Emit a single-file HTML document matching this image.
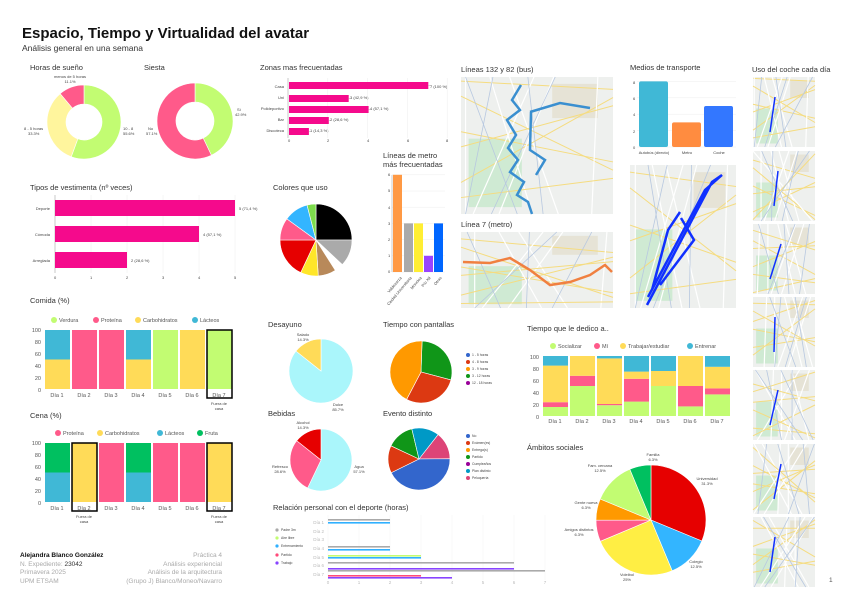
<!DOCTYPE html>
<html><head><meta charset="utf-8">
<style>
html,body{margin:0;padding:0;background:#fff;}
svg{display:block;font-family:"Liberation Sans",sans-serif;}
.t{font-size:7.5px;fill:#333}
.s{font-size:4px;fill:#444}
.m{font-size:5.5px;fill:#555}
.g{font-size:6.5px;fill:#aaa}
</style></head><body>
<svg id="c" width="848" height="599" viewBox="0 0 848 599" xmlns="http://www.w3.org/2000/svg">
<rect width="848" height="599" fill="#fff"/>
<text x="22" y="38" font-size="15" font-weight="bold" fill="#111">Espacio, Tiempo y Virtualidad del avatar</text>
<text x="22" y="51" font-size="8.5" fill="#333">Análisis general en una semana</text>

<text class="t" x="30" y="70">Horas de sueño</text>
<text class="t" x="144" y="70">Siesta</text>
<text class="t" x="260" y="70">Zonas mas frecuentadas</text>
<text class="t" x="383" y="158">Líneas de metro</text>
<text class="t" x="383" y="167">más frecuentadas</text>
<text class="t" x="30" y="190">Tipos de vestimenta (nº veces)</text>
<text class="t" x="273" y="190">Colores que uso</text>
<text class="t" x="461" y="72" font-size="6.5">Líneas 132 y 82 (bus)</text>
<text class="t" x="461" y="227" font-size="6.5">Línea 7 (metro)</text>
<text class="t" x="630" y="70">Medios de transporte</text>
<text class="t" x="752" y="72" font-size="6.5">Uso del coche cada día</text>
<text class="t" x="30" y="303">Comida (%)</text>
<text class="t" x="30" y="418">Cena (%)</text>
<text class="t" x="268" y="327">Desayuno</text>
<text class="t" x="383" y="327">Tiempo con pantallas</text>
<text class="t" x="268" y="416">Bebidas</text>
<text class="t" x="383" y="416">Evento distinto</text>
<text class="t" x="273" y="510">Relación personal con el deporte (horas)</text>
<text class="t" x="527" y="331">Tiempo que le dedico a..</text>
<text class="t" x="527" y="450">Ámbitos sociales</text>

<!-- donut labels -->
<text class="s" x="70" y="78" text-anchor="middle">menos de 5 horas</text><text class="s" x="70" y="83" text-anchor="middle">11.1%</text>
<text class="s" x="24" y="130">8 - 5 horas</text><text class="s" x="28" y="135">33.3%</text>
<text class="s" x="123" y="130">10 - 8</text><text class="s" x="123" y="135">55.6%</text>
<text class="s" x="237" y="111">Sí</text><text class="s" x="235" y="116">42.9%</text>
<text class="s" x="148" y="130">No</text><text class="s" x="146" y="135">57.1%</text>

<!-- zonas -->
<g id="zonas"></g>
<text class="s" x="284" y="88" text-anchor="end">Casa</text>
<text class="s" x="284" y="99" text-anchor="end">Uni</text>
<text class="s" x="284" y="110" text-anchor="end">Polideportivo</text>
<text class="s" x="284" y="121" text-anchor="end">Bar</text>
<text class="s" x="284" y="132" text-anchor="end">Discoteca</text>
<text class="s" x="430" y="88">7 (100 %)</text>
<text class="s" x="350" y="99">3 (42,9 %)</text>
<text class="s" x="370" y="110">4 (57,1 %)</text>
<text class="s" x="330" y="121">2 (28,6 %)</text>
<text class="s" x="310" y="132">1 (14,3 %)</text>
<g class="s"><text x="288" y="142">0</text><text x="327" y="142">2</text><text x="367" y="142">4</text><text x="407" y="142">6</text><text x="446" y="142">8</text></g>

<!-- vestimenta -->
<text class="s" x="50" y="210" text-anchor="end">Deporte</text>
<text class="s" x="50" y="236" text-anchor="end">Cómoda</text>
<text class="s" x="50" y="262" text-anchor="end">Arreglada</text>
<text class="s" x="239" y="210">5 (71,4 %)</text>
<text class="s" x="203" y="236">4 (57,1 %)</text>
<text class="s" x="131" y="262">2 (28,6 %)</text>
<g class="s"><text x="54" y="279">0</text><text x="90" y="279">1</text><text x="126" y="279">2</text><text x="162" y="279">3</text><text x="198" y="279">4</text><text x="234" y="279">5</text></g>

<!-- metro chart labels -->
<g class="s"><text x="388" y="273">0</text><text x="388" y="257">1</text><text x="388" y="241">2</text><text x="388" y="225">3</text><text x="388" y="209">4</text><text x="388" y="192">5</text><text x="388" y="176">6</text></g>
<g class="s">
<text transform="translate(402,278) rotate(-50)" text-anchor="end">Valdezarza</text>
<text transform="translate(412,278) rotate(-50)" text-anchor="end">Ciudad Universitaria</text>
<text transform="translate(422,278) rotate(-50)" text-anchor="end">Moncloa</text>
<text transform="translate(431,278) rotate(-50)" text-anchor="end">Pío XII</text>
<text transform="translate(442,278) rotate(-50)" text-anchor="end">Otras</text>
</g>

<!-- transport -->
<g class="s"><text x="633" y="149">0</text><text x="633" y="133">2</text><text x="633" y="116">4</text><text x="633" y="100">6</text><text x="633" y="84">8</text></g>
<text class="s" x="654" y="154" text-anchor="middle">Autobús (directo)</text>
<text class="s" x="687" y="154" text-anchor="middle">Metro</text>
<text class="s" x="719" y="154" text-anchor="middle">Coche</text>

<!-- comida legend -->
<g class="m">
<circle cx="54" cy="320" r="3" fill="#c2fc72"/><text x="59" y="322">Verdura</text>
<circle cx="96" cy="320" r="3" fill="#ff5a8a"/><text x="101" y="322">Proteína</text>
<circle cx="138" cy="320" r="3" fill="#ffdb58"/><text x="143" y="322">Carbohidratos</text>
<circle cx="195" cy="320" r="3" fill="#40b8d6"/><text x="200" y="322">Lácteos</text>
<circle cx="58" cy="433" r="3" fill="#ff5a8a"/><text x="63" y="435">Proteína</text>
<circle cx="100" cy="433" r="3" fill="#ffdb58"/><text x="105" y="435">Carbohidratos</text>
<circle cx="160" cy="433" r="3" fill="#40b8d6"/><text x="165" y="435">Lácteos</text>
<circle cx="200" cy="433" r="3" fill="#00c060"/><text x="205" y="435">Fruta</text>
</g>
<g class="m" text-anchor="end">
<text x="41" y="332">100</text><text x="41" y="344">80</text><text x="41" y="356">60</text><text x="41" y="368">40</text><text x="41" y="380">20</text><text x="41" y="392">0</text>
<text x="41" y="445">100</text><text x="41" y="457">80</text><text x="41" y="469">60</text><text x="41" y="481">40</text><text x="41" y="493">20</text><text x="41" y="505">0</text>
</g>
<g class="m" text-anchor="middle">
<text x="57" y="397">Día 1</text><text x="84" y="397">Día 2</text><text x="111" y="397">Día 3</text><text x="138" y="397">Día 4</text><text x="165" y="397">Día 5</text><text x="192" y="397">Día 6</text><text x="219" y="397">Día 7</text>
<text x="57" y="510">Día 1</text><text x="84" y="510">Día 2</text><text x="111" y="510">Día 3</text><text x="138" y="510">Día 4</text><text x="165" y="510">Día 5</text><text x="192" y="510">Día 6</text><text x="219" y="510">Día 7</text>
</g>
<g class="s" text-anchor="middle">
<text x="219" y="405">Fuera de</text><text x="219" y="410">casa</text>
<text x="84" y="518">Fuera de</text><text x="84" y="523">casa</text>
<text x="219" y="518">Fuera de</text><text x="219" y="523">casa</text>
</g>

<!-- tiempo legend -->
<g class="m">
<circle cx="553" cy="346" r="3" fill="#c2fc72"/><text x="558" y="348">Socializar</text>
<circle cx="597" cy="346" r="3" fill="#ff5a8a"/><text x="602" y="348">Mí</text>
<circle cx="623" cy="346" r="3" fill="#ffdb58"/><text x="628" y="348">Trabajar/estudiar</text>
<circle cx="690" cy="346" r="3" fill="#40b8d6"/><text x="695" y="348">Entrenar</text>
</g>
<g class="m" text-anchor="end">
<text x="539" y="359">100</text><text x="539" y="371">80</text><text x="539" y="383">60</text><text x="539" y="395">40</text><text x="539" y="407">20</text><text x="539" y="419">0</text>
</g>
<g class="m" text-anchor="middle">
<text x="555" y="423">Día 1</text><text x="582" y="423">Día 2</text><text x="609" y="423">Día 3</text><text x="636" y="423">Día 4</text><text x="663" y="423">Día 5</text><text x="690" y="423">Día 6</text><text x="717" y="423">Día 7</text>
</g>

<!-- pie labels -->
<g class="s" text-anchor="middle">
<text x="303" y="336">Salado</text><text x="303" y="341">14.3%</text>
<text x="338" y="406">Dulce</text><text x="338" y="411">85.7%</text>
<text x="303" y="424">Alcohol</text><text x="303" y="429">14.3%</text>
<text x="280" y="468">Refresco</text><text x="280" y="473">28.6%</text>
<text x="359" y="468">Agua</text><text x="359" y="473">57.1%</text>
<text x="653" y="456">Familia</text><text x="653" y="461">6.3%</text>
<text x="600" y="467">Fam. cercana</text><text x="600" y="472">12.5%</text>
<text x="707" y="480">Universidad</text><text x="707" y="485">31.3%</text>
<text x="586" y="504">Gente nueva</text><text x="586" y="509">6.3%</text>
<text x="579" y="531">Amigos distintos</text><text x="579" y="536">6.3%</text>
<text x="696" y="563">Colegio</text><text x="696" y="568">12.5%</text>
<text x="627" y="576">Voleibol</text><text x="627" y="581">25%</text>
</g>
<g font-size="3.8" fill="#fff" text-anchor="middle">
<text x="432" y="356">28.6%</text><text x="432" y="389">28.6%</text><text x="398" y="372">42.9%</text>
<text x="420" y="482">42.9%</text><text x="397" y="461">14.3%</text><text x="404" y="444">14.3%</text><text x="423" y="438">14.3%</text><text x="440" y="451">14.3%</text>
</g>
<g font-size="3.4" fill="#444">
<circle cx="468" cy="355" r="2" fill="#3366cc"/><text x="472" y="356">1 - 5 horas</text>
<circle cx="468" cy="362" r="2" fill="#dc3912"/><text x="472" y="363">4 - 8 horas</text>
<circle cx="468" cy="369" r="2" fill="#ff9900"/><text x="472" y="370">3 - 9 horas</text>
<circle cx="468" cy="376" r="2" fill="#109618"/><text x="472" y="377">3 - 12 horas</text>
<circle cx="468" cy="383" r="2" fill="#990099"/><text x="472" y="384">12 - 18 horas</text>
<circle cx="468" cy="436" r="2" fill="#3366cc"/><text x="472" y="437">No</text>
<circle cx="468" cy="443" r="2" fill="#dc3912"/><text x="472" y="444">Exámen(es)</text>
<circle cx="468" cy="450" r="2" fill="#ff9900"/><text x="472" y="451">Entrega(s)</text>
<circle cx="468" cy="457" r="2" fill="#109618"/><text x="472" y="458">Partido</text>
<circle cx="468" cy="464" r="2" fill="#990099"/><text x="472" y="465">Cumpleaños</text>
<circle cx="468" cy="471" r="2" fill="#0099c6"/><text x="472" y="472">Plan distinto</text>
<circle cx="468" cy="478" r="2" fill="#dd4477"/><text x="472" y="479">Peluquería</text>
<circle cx="277" cy="530" r="1.6" fill="#aaa"/><text x="281" y="531">Padre 3m</text>
<circle cx="277" cy="538" r="1.6" fill="#c2fc72"/><text x="281" y="539">Aire libre</text>
<circle cx="277" cy="546" r="1.6" fill="#30b0ff"/><text x="281" y="547">Entrenamiento</text>
<circle cx="277" cy="555" r="1.6" fill="#ff4a7a"/><text x="281" y="556">Partido</text>
<circle cx="277" cy="563" r="1.6" fill="#8844ff"/><text x="281" y="564">Trabajo</text>
</g>
<g font-size="4.5" fill="#bbb" text-anchor="end">
<text x="324" y="524">Día 1</text><text x="324" y="533">Día 2</text><text x="324" y="541">Día 3</text><text x="324" y="550">Día 4</text><text x="324" y="559">Día 5</text><text x="324" y="567">Día 6</text><text x="324" y="576">Día 7</text>
</g>
<g font-size="4.5" fill="#bbb" text-anchor="middle">
<text x="328" y="584">0</text><text x="359" y="584">1</text><text x="390" y="584">2</text><text x="421" y="584">3</text><text x="452" y="584">4</text><text x="483" y="584">5</text><text x="514" y="584">6</text><text x="545" y="584">7</text>
</g>

<!-- footer -->
<text x="20" y="557" font-size="6.5" font-weight="bold" fill="#111">Alejandra Blanco González</text>
<text x="20" y="566" font-size="6.5" fill="#aaa">N. Expediente: <tspan fill="#333">23042</tspan></text>
<text x="20" y="574" font-size="6.5" fill="#aaa">Primavera 2025</text>
<text x="20" y="583" font-size="6.5" fill="#aaa">UPM ETSAM</text>
<g font-size="6.5" fill="#aaa" text-anchor="end">
<text x="222" y="557">Práctica 4</text><text x="222" y="566">Análisis experiencial</text><text x="222" y="574">Análisis de la arquitectura</text><text x="222" y="583">(Grupo J) Blanco/Moneo/Navarro</text>
</g>
<text x="829" y="582" font-size="6.5" fill="#555">1</text>
<g id="shapes"></g>
</svg>
<script>
const NS="http://www.w3.org/2000/svg",S=document.getElementById("shapes");
function el(t,a){const e=document.createElementNS(NS,t);for(const k in a)e.setAttribute(k,a[k]);S.appendChild(e);return e;}
function rect(x,y,w,h,f,extra){return el("rect",Object.assign({x,y,width:w,height:h,fill:f},extra||{}));}
function line(x1,y1,x2,y2,c,w){return el("line",{x1,y1,x2,y2,stroke:c,"stroke-width":w||0.5});}
function pie(cx,cy,r,ri,vals,cols,start){let a=(start||0)-90;const tot=vals.reduce((p,q)=>p+q,0);
 vals.forEach((v,i)=>{const b=a+v/tot*360,ra=a*Math.PI/180,rb=b*Math.PI/180,lg=(b-a)>180?1:0;
 let d=`M${cx+r*Math.cos(ra)} ${cy+r*Math.sin(ra)} A${r} ${r} 0 ${lg} 1 ${cx+r*Math.cos(rb)} ${cy+r*Math.sin(rb)}`;
 if(ri>0)d+=` L${cx+ri*Math.cos(rb)} ${cy+ri*Math.sin(rb)} A${ri} ${ri} 0 ${lg} 0 ${cx+ri*Math.cos(ra)} ${cy+ri*Math.sin(ra)}Z`;else d+=` L${cx} ${cy}Z`;
 el("path",{d,fill:cols[i],stroke:"#fff","stroke-width":0.6});a=b;});}
// donuts
pie(84,122,37,18,[55.6,33.3,11.1],["#c2fc72","#fff59d","#ff5a8a"]);
pie(195,121,38,19,[42.9,57.1],["#c2fc72","#ff5a8a"]);
// zonas
[0,2,4,6,8].forEach(i=>line(288+i*19.9,78,288+i*19.9,138,"#eee"));
line(288,78,288,138,"#999");
[[82,7],[95,3],[106,4],[117,2],[128,1]].forEach(([y,v])=>{rect(289,y,v*19.9,7,"#f50a8c");line(289+v*19.9,y+3.5,292+v*19.9,y+3.5,"#999",0.4);});
// vestimenta
[0,1,2,3,4,5].forEach(i=>line(55+i*36,195,55+i*36,273,"#eee"));
line(55,195,55,273,"#999");
[[200,5],[226,4],[252,2]].forEach(([y,v])=>rect(55,y,v*36,16,"#f50a8c"));
// colores pie
pie(316,240,36,0,[25,12,4,8,8,18,10,11,4],["#000","#aaa","#fff","#b8895a","#ffe629","#e60000","#ff5a8a","#33b5ff","#7ddc4c"]);
// metro chart
[0,1,2,3,4,5,6].forEach(i=>line(392,272-i*16.2,445,272-i*16.2,"#eee"));
line(392,175,392,272,"#999");
[[393,6,"#ff9944"],[404,3,"#aaa"],[414,3,"#ffee33"],[424,1,"#9944ff"],[434,3,"#0066ff"]].forEach(([x,v,c])=>rect(x,272-v*16.2,9,v*16.2,c));
// transport
[0,2,4,6,8].forEach(i=>line(637,147-i*8.2,736,147-i*8.2,"#eee"));
[[639,8,"#40b8d6"],[672,3,"#ff8c40"],[704,5,"#3377ff"]].forEach(([x,v,c])=>rect(x,147-v*8.2,29,v*8.2,c,{rx:2}));
// maps
function map(x,y,w,h,seed){rect(x,y,w,h,"#eef0ee");
 rect(x+w*0.05,y+h*0.45,w*0.35,h*0.5,"#cfead3");rect(x+w*0.6,y+h*0.05,w*0.3,h*0.25,"#e6e3d6");
 for(let i=0;i<6;i++){line(x,y+h*((i*37+seed)%100)/100,x+w,y+h*((i*53+seed*3)%100)/100,"#f5dc80",1);
 line(x+w*((i*29+seed)%100)/100,y,x+w*((i*61+seed)%100)/100,y+h,"#ffffff",1.2);}
 for(let i=0;i<4;i++)line(x+w*((i*41+seed*7)%100)/100,y,x+w*((i*17+seed)%100)/100,y+h,"#b8c8e0",0.8);}
map(461,77,152,137,3);
el("path",{d:"M521 85 L512 100 L520 110 L507 120 L516 135 L508 148 L518 160 L510 172 L524 182 L517 195 L528 202 L532 214 M530 112 L560 103 L590 108 M531 112 L530 150 L545 160 L536 175",fill:"none",stroke:"#3a8fd0","stroke-width":2.5});
map(461,232,152,76,9);
el("path",{d:"M463 262 L490 263 L510 258 L530 270 L550 285 L570 282 L590 275 L605 265 L612 272",fill:"none",stroke:"#f08040","stroke-width":2.5});
map(630,165,106,143,5);
el("path",{d:"M647 305 L712 182 L722 175 L705 190 L648 297 M652 290 L668 230 L680 212 M681 218 L694 240 L660 285",fill:"none",stroke:"#1030ff","stroke-width":2.5});
[77,151,224,297,370,444,517].forEach((y,i)=>{map(753,y,62,70,i*11+2);
 el("path",{d:`M${775+i%3*3} ${y+20} L${770+i%2*4} ${y+55}`,stroke:"#1030ff","stroke-width":1.5,fill:"none"});});
// stacked bars
function stack(x0,yb,h,data,cols){data.forEach((d,i)=>{let y=yb;d.forEach((v,j)=>{const hh=v/100*h;if(hh>0)rect(x0+i*27,y-hh,25,hh,cols[j]);y-=hh;});});}
const G="#c2fc72",P="#ff5a8a",Y="#ffdb58",B="#40b8d6",F="#00c060";
stack(45,389,59,[[0,0,50,50],[0,100,0,0],[0,100,0,0],[0,0,50,50],[100,0,0,0],[0,0,100,0],[100,0,0,0]],[G,P,Y,B]);
rect(207,330,25,68,"none",{stroke:"#000","stroke-width":1.5});
stack(45,502,59,[[0,0,50,50],[0,100,0,0],[100,0,0,0],[0,0,50,50],[100,0,0,0],[100,0,0,0],[0,100,0,0]],[P,Y,B,F]);
rect(72,443,25,68,"none",{stroke:"#000","stroke-width":1.5});
rect(207,443,25,68,"none",{stroke:"#000","stroke-width":1.5});
stack(543,416,60,[[15,8,61,16],[50,17,33,0],[18,2,76,4],[24,38,12,26],[50,0,25,25],[16,34,50,0],[36,10,36,18]],[G,P,Y,B]);
// small pies
pie(321,371,32,0,[85.7,14.3],["#aaf6fb","#ffdb58"]);
pie(421,372,31,0,[28.6,28.6,42.9],["#109618","#dc3912","#ff9900"],2);
pie(321,460,31,0,[57.1,28.6,14.3],["#aaf6fb","#ff5a8a","#e60000"]);
pie(419,459,31,0,[14.3,42.9,14.3,14.3,14.3],["#dd4477","#3366cc","#dc3912","#109618","#0099c6"],38);
pie(651,520,55,0,[31.3,12.5,25,6.3,6.3,12.5,6.3],["#e60000","#33b5ff","#ffee44","#ff5a8a","#ff9900","#c2fc72","#00c060"]);
// deporte bars
const u=31;[0,1,2,3,4,5,6,7].forEach(i=>line(328+i*u,515,328+i*u,580,"#f2f2f2"));
[[519,2,"#aaa"],[522,2,"#30b0ff"],[546,2,"#aaa"],[549,2,"#30b0ff"],[555,3,"#c2fc72"],[557,3,"#30b0ff"],[562,6,"#aaa"],[568,6,"#8844ff"],[570,7,"#aaa"],[575,3,"#ff4a7a"],[577,4,"#8844ff"]].forEach(([y,v,c])=>rect(328,y,v*u,1.6,c));
</script>
</body></html>
